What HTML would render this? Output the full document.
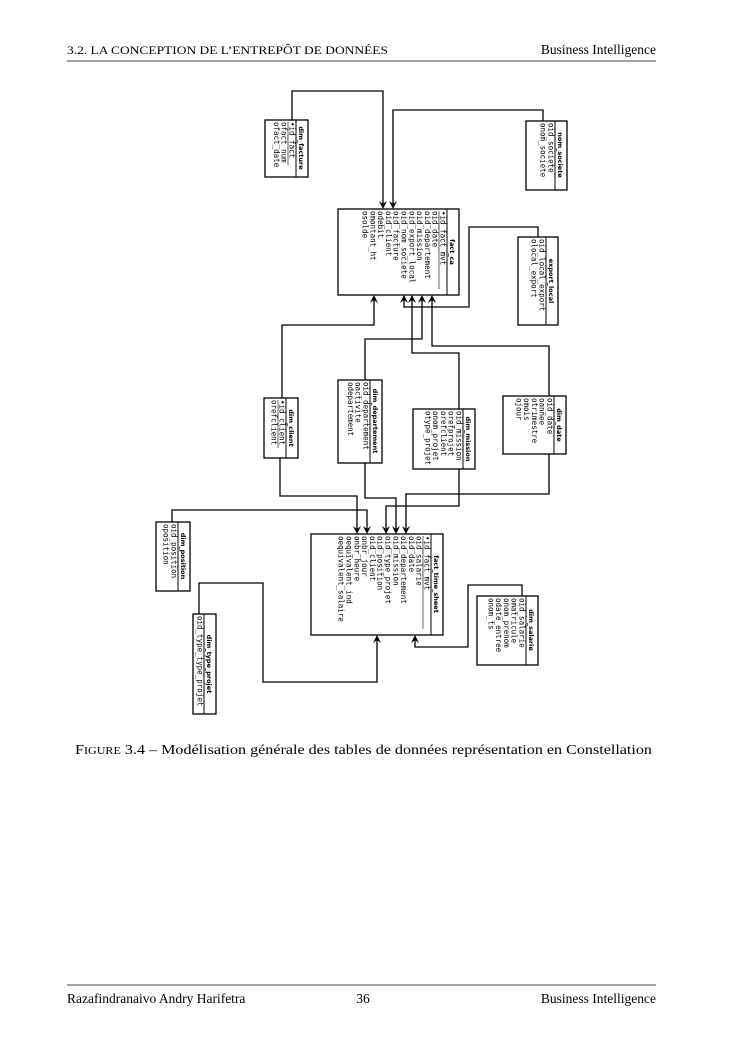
<!DOCTYPE html>
<html><head><meta charset="utf-8"><style>
body{margin:0;background:#fff;}
svg{display:block}
.t{font-family:"DejaVu Sans",sans-serif;font-weight:bold;font-size:6.5px;text-anchor:middle}
.r{font-family:"DejaVu Sans Mono",monospace;font-size:7.5px}
.pg{font-family:"Liberation Serif",serif;}
</style></head><body>
<svg width="745" height="1053" viewBox="0 0 745 1053" xmlns="http://www.w3.org/2000/svg">
<text class="pg" x="67" y="54" font-size="12" textLength="321" lengthAdjust="spacingAndGlyphs">3.2.  LA CONCEPTION DE L’ENTREPÔT DE DONNÉES</text>
<text class="pg" x="656" y="54" font-size="13.5" text-anchor="end">Business Intelligence</text>
<line x1="67" y1="61" x2="656" y2="61" stroke="#000" stroke-width="0.8"/>
<text class="pg" x="75" y="754" font-size="14" textLength="577" lengthAdjust="spacingAndGlyphs"><tspan font-size="14">F</tspan><tspan font-size="10.5">IGURE</tspan> 3.4 – Modélisation générale des tables de données représentation en Constellation</text>
<line x1="67" y1="985" x2="656" y2="985" stroke="#000" stroke-width="0.8"/>
<text class="pg" x="67" y="1003" font-size="13.5">Razafindranaivo Andry Harifetra</text>
<text class="pg" x="363" y="1003" font-size="13.5" text-anchor="middle">36</text>
<text class="pg" x="656" y="1003" font-size="13.5" text-anchor="end">Business Intelligence</text>

<g fill="none" stroke="#000" stroke-width="1.3">
<polyline points="292,120 292,91 383,91 383,206"/>
<polyline points="543,121 543,110 393,110 393,206"/>
<polyline points="538,237 538,227 469,227 469,307 404,307 404,298"/>
<polyline points="282,398 282,325 374,325 374,298"/>
<polyline points="365,380 365,339 422,339 422,298"/>
<polyline points="459,409 459,353 412,353 412,298"/>
<polyline points="549,396 549,346 432,346 432,298"/>
<polyline points="280,458 280,496 357,496 357,531"/>
<polyline points="172,522 172,510 367,510 367,531"/>
<polyline points="365,463 365,498 396,498 396,531"/>
<polyline points="459,469 459,506 386,506 386,531"/>
<polyline points="549,454 549,494 406,494 406,531"/>
<polyline points="199,614 199,583 263,583 263,682 377,682 377,638"/>
<polyline points="522,596 522,585 468,585 468,647 415,647 415,638"/>
</g>
<g fill="#000">
<path d="M383,209 l-4,-8 l4,3 l4,-3z"/><path d="M393,209 l-4,-8 l4,3 l4,-3z"/>
<path d="M374,295 l-4,8 l4,-3 l4,3z"/><path d="M404,295 l-4,8 l4,-3 l4,3z"/>
<path d="M412,295 l-4,8 l4,-3 l4,3z"/><path d="M422,295 l-4,8 l4,-3 l4,3z"/><path d="M432,295 l-4,8 l4,-3 l4,3z"/>
<path d="M357,534 l-4,-8 l4,3 l4,-3z"/><path d="M367,534 l-4,-8 l4,3 l4,-3z"/>
<path d="M386,534 l-4,-8 l4,3 l4,-3z"/><path d="M396,534 l-4,-8 l4,3 l4,-3z"/><path d="M406,534 l-4,-8 l4,3 l4,-3z"/>
<path d="M377,635 l-4,8 l4,-3 l4,3z"/><path d="M415,635 l-4,8 l4,-3 l4,3z"/>
</g>

<g transform="translate(308,120) rotate(90)">
<rect x="0" y="0" width="57" height="43" fill="#fff" stroke="#000" stroke-width="1.3"/><line x1="0" y1="12" x2="57" y2="12" stroke="#000"/>
<text class="t" x="28" y="9">dim_facture</text><line x1="2" y1="20" x2="45" y2="20" stroke="#000" stroke-width="0.6"/>
<text class="r" x="2" y="18.5">•id_fact</text><text class="r" x="2" y="26.3">ofact_num</text><text class="r" x="2" y="34.1">ofact_date</text>
</g>
<g transform="translate(567,121) rotate(90)">
<rect width="69" height="41" fill="#fff" stroke="#000" stroke-width="1.3"/><line x1="0" y1="12" x2="69" y2="12" stroke="#000"/>
<text class="t" x="34" y="9">nom_societe</text>
<text class="r" x="2" y="18.5">oid_societe</text><text class="r" x="2" y="26.3">onom_societe</text>
</g>
<g transform="translate(459,209) rotate(90)">
<rect width="86" height="121" fill="#fff" stroke="#000" stroke-width="1.3"/><line x1="0" y1="12" x2="86" y2="12" stroke="#000"/>
<text class="t" x="43" y="9">fact_ca</text><line x1="2" y1="20" x2="80" y2="20" stroke="#000" stroke-width="0.6"/>
<text class="r" x="2" y="18.5">•id_fact_mvt</text><text class="r" x="2" y="26.3">oid_date</text><text class="r" x="2" y="34.1">oid_departement</text><text class="r" x="2" y="41.9">oid_mission</text><text class="r" x="2" y="49.7">oid_export_local</text><text class="r" x="2" y="57.5">oid_nom_societe</text><text class="r" x="2" y="65.3">oid_facture</text><text class="r" x="2" y="73.1">oid_client</text><text class="r" x="2" y="80.9">odebit</text><text class="r" x="2" y="88.7">omontant_ht</text><text class="r" x="2" y="96.5">osolde</text>
</g>
<g transform="translate(558,237) rotate(90)">
<rect width="88" height="40" fill="#fff" stroke="#000" stroke-width="1.3"/><line x1="0" y1="12" x2="88" y2="12" stroke="#000"/>
<text class="t" x="44" y="9">export_local</text>
<text class="r" x="2" y="18.5">oid_local_export</text><text class="r" x="2" y="26.3">olocal_export</text>
</g>
<g transform="translate(298,398) rotate(90)">
<rect width="60" height="34" fill="#fff" stroke="#000" stroke-width="1.3"/><line x1="0" y1="12" x2="60" y2="12" stroke="#000"/>
<text class="t" x="30" y="9">dim_client</text><line x1="2" y1="20" x2="50" y2="20" stroke="#000" stroke-width="0.6"/>
<text class="r" x="2" y="18.5">•id_client</text><text class="r" x="2" y="26.3">orefclient</text>
</g>
<g transform="translate(382,380) rotate(90)">
<rect width="83" height="44" fill="#fff" stroke="#000" stroke-width="1.3"/><line x1="0" y1="12" x2="83" y2="12" stroke="#000"/>
<text class="t" x="41" y="9">dim_departement</text>
<text class="r" x="2" y="18.5">oid_departement</text><text class="r" x="2" y="26.3">oactivite</text><text class="r" x="2" y="34.1">odepartement</text>
</g>
<g transform="translate(475,409) rotate(90)">
<rect width="60" height="62" fill="#fff" stroke="#000" stroke-width="1.3"/><line x1="0" y1="12" x2="60" y2="12" stroke="#000"/>
<text class="t" x="30" y="9">dim_mission</text>
<text class="r" x="2" y="18.5">oid_mission</text><text class="r" x="2" y="26.3">orefprojet</text><text class="r" x="2" y="34.1">orefclient</text><text class="r" x="2" y="41.9">onom_projet</text><text class="r" x="2" y="49.7">otype_projet</text>
</g>
<g transform="translate(566,396) rotate(90)">
<rect width="58" height="63" fill="#fff" stroke="#000" stroke-width="1.3"/><line x1="0" y1="12" x2="58" y2="12" stroke="#000"/>
<text class="t" x="29" y="9">dim_date</text>
<text class="r" x="2" y="18.5">oid_date</text><text class="r" x="2" y="26.3">oannee</text><text class="r" x="2" y="34.1">otrimestre</text><text class="r" x="2" y="41.9">omois</text><text class="r" x="2" y="49.7">ojour</text>
</g>
<g transform="translate(190,522) rotate(90)">
<rect width="69" height="34" fill="#fff" stroke="#000" stroke-width="1.3"/><line x1="0" y1="12" x2="69" y2="12" stroke="#000"/>
<text class="t" x="34" y="9">dim_position</text>
<text class="r" x="2" y="18.5">oid_position</text><text class="r" x="2" y="26.3">oposition</text>
</g>
<g transform="translate(443,534) rotate(90)">
<rect width="101" height="132" fill="#fff" stroke="#000" stroke-width="1.3"/><line x1="0" y1="12" x2="101" y2="12" stroke="#000"/>
<text class="t" x="50" y="9">fact_time_sheet</text><line x1="2" y1="20" x2="95" y2="20" stroke="#000" stroke-width="0.6"/>
<text class="r" x="2" y="18.5">•id_fact_mvt</text><text class="r" x="2" y="26.3">oid_salarie</text><text class="r" x="2" y="34.1">oid_date</text><text class="r" x="2" y="41.9">oid_departement</text><text class="r" x="2" y="49.7">oid_mission</text><text class="r" x="2" y="57.5">oid_type_projet</text><text class="r" x="2" y="65.3">oid_position</text><text class="r" x="2" y="73.1">oid_client</text><text class="r" x="2" y="80.9">onbr_jour</text><text class="r" x="2" y="88.7">onbr_heure</text><text class="r" x="2" y="96.5">oequivalent_ind</text><text class="r" x="2" y="104.3">oequivalent_salaire</text>
</g>
<g transform="translate(538,596) rotate(90)">
<rect width="69" height="61" fill="#fff" stroke="#000" stroke-width="1.3"/><line x1="0" y1="12" x2="69" y2="12" stroke="#000"/>
<text class="t" x="34" y="9">dim_salarie</text>
<text class="r" x="2" y="18.5">oid_salarie</text><text class="r" x="2" y="26.3">omatricule</text><text class="r" x="2" y="34.1">onom_prenom</text><text class="r" x="2" y="41.9">odate_entree</text><text class="r" x="2" y="49.7">onom_ts</text>
</g>
<g transform="translate(216,614) rotate(90)">
<rect width="100" height="23" fill="#fff" stroke="#000" stroke-width="1.3"/><line x1="0" y1="12" x2="100" y2="12" stroke="#000"/>
<text class="t" x="50" y="9">dim_type_projet</text>
<text class="r" x="2" y="18.5">oid_type_type_projet</text>
</g>
</svg>
</body></html>
